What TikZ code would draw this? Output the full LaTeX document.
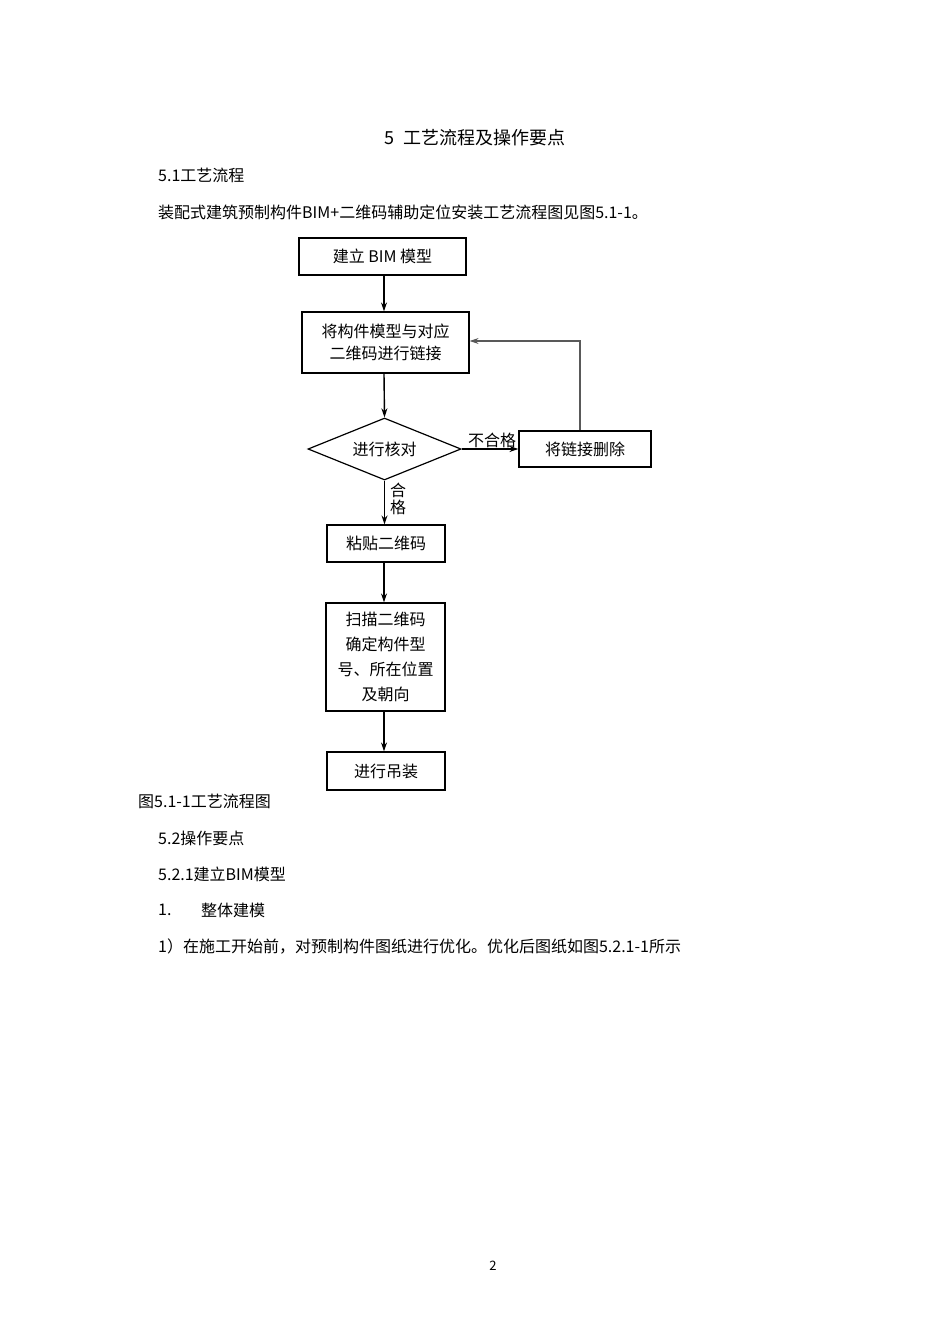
\documentclass[tikz,border=0pt]{standalone}
\usepackage{fontspec}
\setmainfont{Noto Sans CJK SC}
\usetikzlibrary{shapes.geometric,arrows.meta}
\begin{document}
\begin{tikzpicture}[x=1pt,y=-1pt,
  box/.style={draw,line width=1.2pt,inner sep=0pt,font=\fontsize{16}{22}\selectfont,align=center},
  txt/.style={anchor=west,inner sep=0pt,font=\fontsize{16}{18}\selectfont},
  arr/.style={-{Stealth[length=9pt,width=6pt]},line width=1.4pt}]
\useasboundingbox[fill=white] (0,0) rectangle (950,1344);
\node[inner sep=0pt,font=\fontsize{18}{20}\selectfont] (title) at (475,138) {5\hspace{10pt}工艺流程及操作要点};
\node[txt] (t1) at (158,175) {5.1工艺流程};
\node[txt] (t2) at (158,212) {装配式建筑预制构件BIM+二维码辅助定位安装工艺流程图见图5.1-1。};
\node[box,minimum width=167pt,minimum height=37pt] (b1) at (382.5,256.5) {建立 BIM 模型};
\node[box,minimum width=167pt,minimum height=61pt] (b2) at (385.5,342.5) {将构件模型与对应\\二维码进行链接};
\node[box,diamond,aspect=2.47,minimum width=153pt,minimum height=62pt] (d) at (384.5,449) {进行核对};
\node[box,minimum width=132pt,minimum height=36pt] (r) at (585,449) {将链接删除};
\node[box,minimum width=118pt,minimum height=37pt] (b3) at (386,543.5) {粘贴二维码};
\node[box,minimum width=119pt,minimum height=108pt,font=\fontsize{16}{25}\selectfont] (b4) at (385.5,657) {扫描二维码\\确定构件型\\号、所在位置\\及朝向};
\node[box,minimum width=118pt,minimum height=38pt] (b5) at (386,771) {进行吊装};
\draw[arr] (b1.south -| 384,0) -- (b2.north -| 384,0);
\draw[arr] (b2.south -| 384,0) -- (d.north);
\draw[arr] (d.east) -- node[above,inner sep=1pt,xshift=2pt,font=\fontsize{16}{18}\selectfont] (lb1) {不合格} (r.west);
\draw[arr,line width=1.2pt,draw=gray!70!black] (r.north -| 580,0) -- (580,341) -- (b2.east |- 0,341);
\draw[arr] (d.south) -- (b3.north -| d.south);
\node[inner sep=0pt,font=\fontsize{16}{17}\selectfont,align=center] (lb2) at (398,499) {合\\格};
\draw[arr] (b3.south -| 384,0) -- (b4.north -| 384,0);
\draw[arr] (b4.south -| 384,0) -- (b5.north -| 384,0);
\node[txt] (cap) at (138,801) {图5.1-1工艺流程图};
\node[txt] (t3) at (158,838) {5.2操作要点};
\node[txt] (t4) at (158,874) {5.2.1建立BIM模型};
\node[txt] (t5) at (158,910) {1.};
\node[txt] (t5b) at (201,910) {整体建模};
\node[txt] (t6) at (158,946) {1）在施工开始前，对预制构件图纸进行优化。优化后图纸如图5.2.1-1所示};
\node[inner sep=0pt,font=\fontsize{13}{15}\selectfont] (pg) at (493,1266) {2};
\end{tikzpicture}
\end{document}
